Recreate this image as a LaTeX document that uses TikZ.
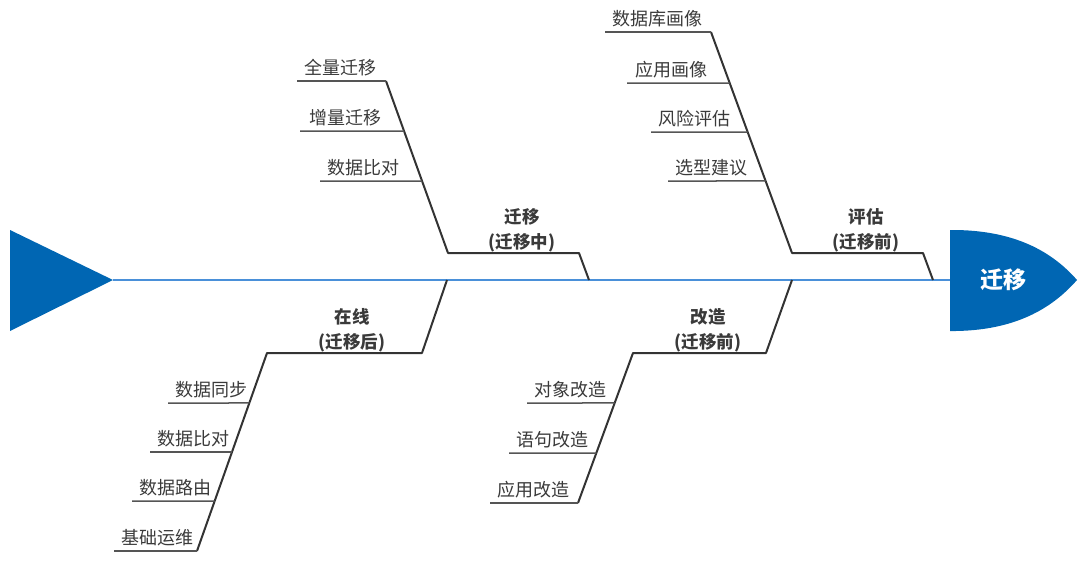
\documentclass[tikz,border=0pt]{standalone}
\usepackage{fontspec}
\setmainfont{Noto Sans CJK SC}
\usetikzlibrary{calc}
\definecolor{fishblue}{HTML}{0066B3}
\definecolor{spinecol}{HTML}{4A90D9}
\definecolor{bonecol}{HTML}{333333}
\definecolor{subcol}{HTML}{555555}
\definecolor{txtcol}{HTML}{3A3A3A}
\begin{document}
\begin{tikzpicture}[x=1pt,y=-1pt,
  bone/.style={draw=bonecol,line width=2pt,line join=round},
  subline/.style={draw=subcol,line width=1.5pt},
  spine/.style={draw=spinecol,line width=1.5pt},
  subtxt/.style={font=\fontsize{18}{20}\selectfont,text=txtcol,anchor=base west,inner sep=0pt},
  cattxt/.style={font=\fontsize{17.5}{25}\selectfont\bfseries,text=txtcol,align=center,anchor=south,inner sep=0pt},
  headtxt/.style={font=\fontsize{23}{26}\selectfont\bfseries,text=white}]
\useasboundingbox (0,0) rectangle (1080,562);

% spine
\coordinate (tailtip) at (113,280);
\coordinate (headleft) at (950,280);
\draw[spine] (tailtip) -- (headleft);

% tail
\coordinate (tailtop) at (10,230);
\coordinate (tailbot) at (10,331);
\fill[fishblue] (tailtop) -- (tailtip) -- (tailbot) -- cycle;

% head
\coordinate (headtop) at (950,230);
\coordinate (headbot) at (950,331);
\coordinate (headtip) at (1077,280);
\fill[fishblue] (headtop) -- (956,230) .. controls (1020,231) and (1055,255) .. (headtip)
  .. controls (1055,305) and (1020,330) .. (956,331) -- (headbot) -- cycle;
\node[headtxt] (head) at (1003,280) {迁移};

% branch A: 迁移中 (upper)
\coordinate (a0) at (589,280);
\coordinate (a1) at (579,253);
\coordinate (a2) at (448,253);
\coordinate (a3) at (386,81);
\draw[bone] (a0) -- (a1) -- (a2) -- (a3);
\node[cattxt] (catA) at (522,252) {迁移\\(迁移中)};
\coordinate (a3r) at ($(a3)!0.2907!(a2)$);
\coordinate (a3s) at ($(a3)!0.5814!(a2)$);
\coordinate (aL1) at (297,81);
\coordinate (aL2) at (300,131);
\coordinate (aL3) at (320,181);
\draw[subline] (aL1) -- (a3);
\draw[subline] (aL2) -- (a3r);
\draw[subline] (aL3) -- (a3s);
\node[subtxt] (tA1) at ($(aL1)+(7,-7)$) {全量迁移};
\node[subtxt] (tA2) at ($(aL2)+(9,-7)$) {增量迁移};
\node[subtxt] (tA3) at ($(aL3)+(7,-7)$) {数据比对};

% branch E: 评估 (upper)
\coordinate (e0) at (933,280);
\coordinate (e1) at (923,253);
\coordinate (e2) at (792,253);
\coordinate (e3) at (711,32);
\draw[bone] (e0) -- (e1) -- (e2) -- (e3);
\node[cattxt] (catE) at (866,252) {评估\\(迁移前)};
\coordinate (e3r) at ($(e3)!0.2308!(e2)$);
\coordinate (e3s) at ($(e3)!0.4525!(e2)$);
\coordinate (e3t) at ($(e3)!0.6742!(e2)$);
\coordinate (eL1) at (605,32);
\coordinate (eL2) at (627,83);
\coordinate (eL3) at (651,132);
\coordinate (eL4) at (668,181);
\draw[subline] (eL1) -- (e3);
\draw[subline] (eL2) -- (e3r);
\draw[subline] (eL3) -- (e3s);
\draw[subline] (eL4) -- (e3t);
\node[subtxt] (tE1) at ($(eL1)+(7,-7)$) {数据库画像};
\node[subtxt] (tE2) at ($(eL2)+(8,-7)$) {应用画像};
\node[subtxt] (tE3) at ($(eL3)+(7,-7)$) {风险评估};
\node[subtxt] (tE4) at ($(eL4)+(7,-7)$) {选型建议};

% branch C: 在线 (lower)
\coordinate (c0) at (447,280);
\coordinate (c1) at (422,353);
\coordinate (c2) at (267,353);
\coordinate (c3) at (197,551);
\draw[bone] (c0) -- (c1) -- (c2) -- (c3);
\node[cattxt] (catC) at (352,352) {在线\\(迁移后)};
\coordinate (c3p) at ($(c2)!0.2525!(c3)$);
\coordinate (c3q) at ($(c2)!0.5!(c3)$);
\coordinate (c3r) at ($(c2)!0.7475!(c3)$);
\coordinate (cL1) at (168,403);
\coordinate (cL2) at (150,452);
\coordinate (cL3) at (132,501);
\coordinate (cL4) at (114,551);
\draw[subline] (cL1) -- (c3p);
\draw[subline] (cL2) -- (c3q);
\draw[subline] (cL3) -- (c3r);
\draw[subline] (cL4) -- (c3);
\node[subtxt] (tC1) at ($(cL1)+(7,-7)$) {数据同步};
\node[subtxt] (tC2) at ($(cL2)+(7,-7)$) {数据比对};
\node[subtxt] (tC3) at ($(cL3)+(7,-7)$) {数据路由};
\node[subtxt] (tC4) at ($(cL4)+(7,-7)$) {基础运维};

% branch G: 改造 (lower)
\coordinate (g0) at (792,280);
\coordinate (g1) at (766,353);
\coordinate (g2) at (633,353);
\coordinate (g3) at (578,503);
\draw[bone] (g0) -- (g1) -- (g2) -- (g3);
\node[cattxt] (catG) at (708,352) {改造\\(迁移前)};
\coordinate (g3p) at ($(g2)!0.3333!(g3)$);
\coordinate (g3q) at ($(g2)!0.6667!(g3)$);
\coordinate (gL1) at (527,403);
\coordinate (gL2) at (509,453);
\coordinate (gL3) at (490,503);
\draw[subline] (gL1) -- (g3p);
\draw[subline] (gL2) -- (g3q);
\draw[subline] (gL3) -- (g3);
\node[subtxt] (tG1) at ($(gL1)+(7,-7)$) {对象改造};
\node[subtxt] (tG2) at ($(gL2)+(7,-7)$) {语句改造};
\node[subtxt] (tG3) at ($(gL3)+(7,-7)$) {应用改造};
\end{tikzpicture}
\end{document}
